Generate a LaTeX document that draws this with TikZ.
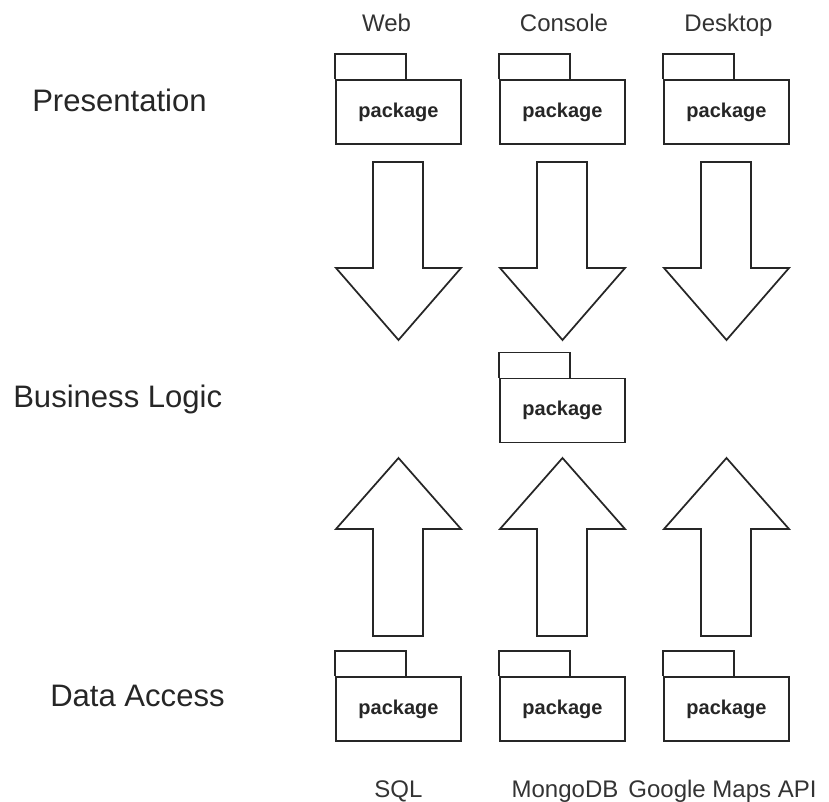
\documentclass[tikz,border=0pt]{standalone}
\usepackage{fontspec}
\setmainfont{Liberation Sans}
\begin{document}
\begin{tikzpicture}[x=0.75pt,y=-0.75pt,
  line join=miter,
  pkgbody/.style={draw=black!85, line width=1.3pt, fill=white, minimum width=93.75pt, minimum height=48pt, inner sep=0pt, font=\bfseries\fontsize{15}{18}\selectfont, text=black!85},
  pkgtab/.style={draw=black!85, line width=1.3pt},
  bigarrow/.style={draw=black!85, line width=1.3pt, fill=white},
  layerlabel/.style={font=\fontsize{23.3}{28}\selectfont, text=black!85, inner sep=0pt, anchor=base west},
  techlabel/.style={font=\fontsize{18}{22}\selectfont, text=black!80, inner sep=0pt, anchor=base}]
\useasboundingbox (0,0) rectangle (829,802);

% layer names
\node[layerlabel] (lpres) at (32,112) {Presentation};
\node[layerlabel] (lbiz) at (13,407) {Business Logic};
\node[layerlabel] (ldata) at (50,706) {Data Access};

% technology labels
\node[techlabel] (tweb) at (386.5,32) {Web};
\node[techlabel] (tcon) at (564,32) {Console};
\node[techlabel] (tdesk) at (728.5,32) {Desktop};
\node[techlabel] (tsql) at (398.5,797) {SQL};
\node[techlabel] (tmongo) at (565,797) {MongoDB};
\node[techlabel] (tmaps) at (722.5,797) {Google Maps API};

% packages: body node plus tab on its upper left
\foreach \nm/\cx/\cy in {pweb/398.5/112, pcon/562.5/112, pdesk/726.5/112,
                         pbiz/562.5/410.5,
                         dsql/398.5/709, dmongo/562.5/709, dmaps/726.5/709} {
  \node[pkgbody] (\nm) at (\cx,\cy) {package};
  \draw[pkgtab] (\nm.north west) -- ++(0,-25) -- ++(71,0) -- ++(0,25);
}

% down arrows (presentation -> business logic)
\foreach \dx in {0,164,328} {
  \begin{scope}[xshift=\dx*0.75pt]
    \draw[bigarrow] (373,162) -- (423,162) -- (423,268) -- (461,268) -- (398.5,340)
      -- (336,268) -- (373,268) -- cycle;
  \end{scope}
}

% up arrows (data access -> business logic)
\foreach \dx in {0,164,328} {
  \begin{scope}[xshift=\dx*0.75pt]
    \draw[bigarrow] (373,636) -- (423,636) -- (423,529) -- (461,529) -- (398.5,458)
      -- (336,529) -- (373,529) -- cycle;
  \end{scope}
}
\end{tikzpicture}
\end{document}
